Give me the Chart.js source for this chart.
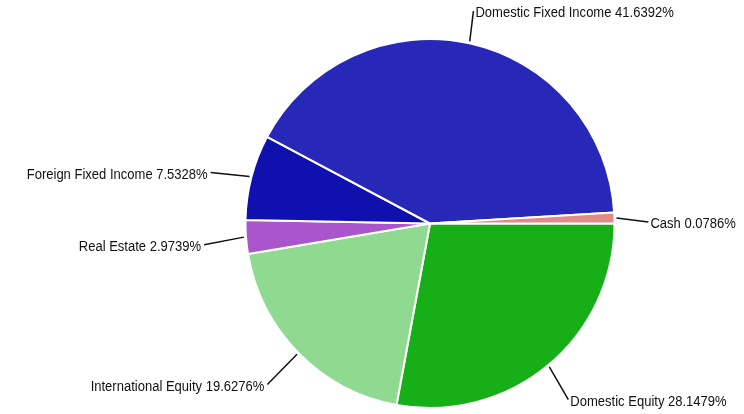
<!DOCTYPE html>
<html>
<head>
<meta charset="utf-8">
<script src="https://cdn.jsdelivr.net/npm/chart.js@4.4.1/dist/chart.umd.min.js"></script>
<style>
  html, body { margin: 0; padding: 0; background: #fff; }
  #wrap { width: 744px; height: 414px; position: relative; }
</style>
</head>
<body>
<div id="wrap"><canvas id="chart"></canvas></div>
<script>
// slices in drawing order, clockwise from 3 o'clock
const categories = ['Domestic Equity', 'International Equity', 'Real Estate', 'Foreign Fixed Income', 'Domestic Fixed Income', 'Cash'];
const percentLabels = ['28.1479%', '19.6276%', '2.9739%', '7.5328%', '41.6392%', '0.0786%'];
// slice sizes as drawn (cash is drawn wider than its label)
const shares = [28.1479, 19.6276, 2.9739, 7.5328, 41.6392, 0.95];
const colors = ['#17af17', '#90d990', '#aa55cc', '#1010af', '#2828b8', '#e08a8a'];

const leaderLabels = {
  id: 'leaderLabels',
  afterDatasetsDraw(chart) {
    const ctx = chart.ctx;
    const meta = chart.getDatasetMeta(0);
    const squeeze = 0.84; // narrow look of the original font
    meta.data.forEach((arc, i) => {
      const mid = (arc.startAngle + arc.endAngle) / 2;
      const r = arc.outerRadius;
      const cos = Math.cos(mid), sin = Math.sin(mid);
      const x1 = arc.x + cos * (r + 2), y1 = arc.y + sin * (r + 2);
      // label end sits a little lower and to the left of the radial point
      const x2 = arc.x + cos * (r + 38) - 4, y2 = arc.y + sin * (r + 38) + 5;
      ctx.save();
      ctx.strokeStyle = '#111';
      ctx.lineWidth = 1.5;
      ctx.beginPath();
      ctx.moveTo(x1, y1);
      ctx.lineTo(x2, y2);
      ctx.stroke();
      const right = cos >= 0;
      ctx.translate(x2 + (right ? 2 : -3), y2 + 2);
      ctx.scale(squeeze, 1);
      ctx.font = '15.5px "Liberation Sans", Arial, sans-serif';
      ctx.fillStyle = '#111';
      ctx.textBaseline = 'middle';
      ctx.textAlign = right ? 'left' : 'right';
      ctx.fillText(categories[i] + ' ' + percentLabels[i], 0, 0);
      ctx.restore();
    });
  }
};

new Chart(document.getElementById('chart'), {
  type: 'pie',
  data: {
    labels: categories,
    datasets: [{
      data: shares,
      backgroundColor: colors,
      borderColor: '#ffffff',
      borderWidth: 2
    }]
  },
  options: {
    responsive: true,
    maintainAspectRatio: false,
    animation: false,
    rotation: 90,
    layout: { padding: { left: 244, right: 128, top: 38, bottom: 5 } },
    plugins: {
      legend: { display: false },
      tooltip: { enabled: false }
    }
  },
  plugins: [leaderLabels]
});
</script>
</body>
</html>
